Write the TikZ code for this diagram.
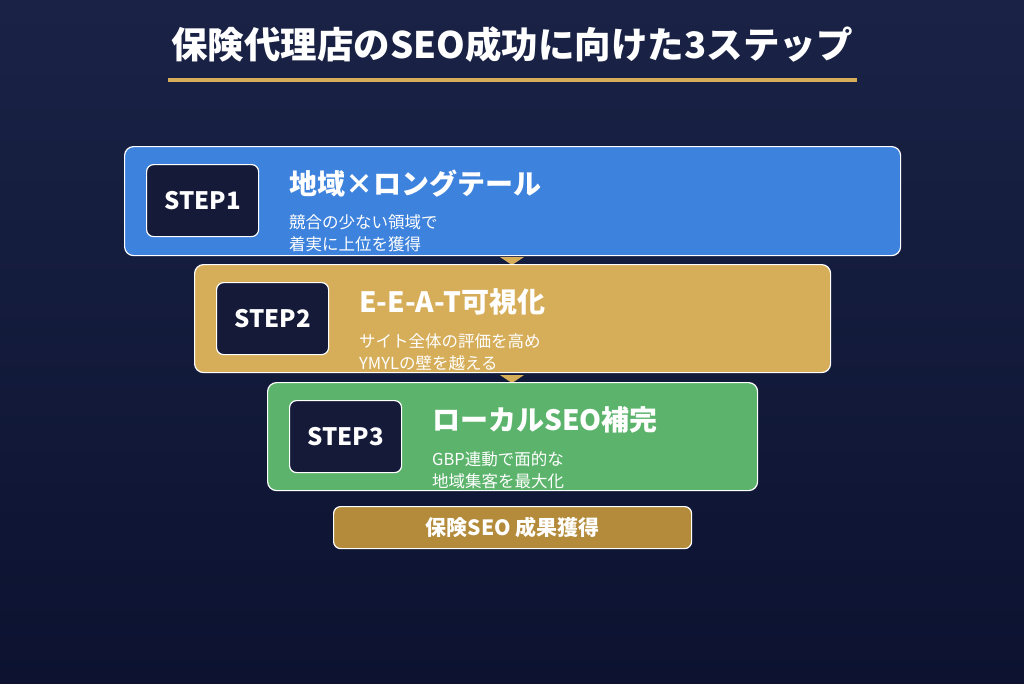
\documentclass[tikz,border=0pt]{standalone}
\usepackage{fontspec}
\setmainfont{Noto Sans CJK JP}
\begin{document}
\begin{tikzpicture}[x=1pt,y=-1pt,
  stage/.style={draw=white,line width=1.2pt,rounded corners=9pt,anchor=north west,inner sep=0},
  stepbox/.style={draw=white,line width=1.2pt,fill=stepdark,rounded corners=7pt,minimum width=112pt,minimum height=72pt,anchor=north west,font=\bfseries\fontsize{24}{26}\selectfont,text=white},
  ttl/.style={anchor=west,text=white,font=\bfseries\fontsize{28}{30}\selectfont,inner sep=0},
  sub/.style={anchor=north west,text=white,font=\fontsize{16.5}{22}\selectfont,align=left,inner sep=0}]
\definecolor{bgtop}{HTML}{1A2346}\definecolor{bgbot}{HTML}{0C1230}
\definecolor{stepdark}{HTML}{141A38}\definecolor{blueb}{HTML}{3D82DC}
\definecolor{gold}{HTML}{D6AE5A}\definecolor{greenb}{HTML}{5CB46C}
\definecolor{goldd}{HTML}{B38B3A}
\shade[top color=bgtop,bottom color=bgbot] (0,0) rectangle (1024,683);
\useasboundingbox (0,0) rectangle (1024,683);
\node[text=white,font=\bfseries\fontsize{36.5}{40}\selectfont] (title) at (512,45) {保険代理店のSEO成功に向けた3ステップ};
\draw[gold,line width=4pt] (168,80) -- (857,80);
% connectors
\fill[gold] (500,257) -- (524,257) -- (512,265) -- cycle;
\fill[gold] (500,375) -- (524,375) -- (512,383) -- cycle;
% stage 1
\node[stage,fill=blueb,minimum width=776pt,minimum height=109pt] (s1) at (124,146) {};
\node[stepbox] (p1) at (146,164) {STEP1};
\node[ttl] (t1) at (289,184) {地域×ロングテール};
\node[sub] (d1) at (289,214) {競合の少ない領域で\\着実に上位を獲得};
% stage 2
\node[stage,fill=gold,minimum width=636pt,minimum height=108pt] (s2) at (194,264) {};
\node[stepbox] (p2) at (216,282) {STEP2};
\node[ttl] (t2) at (359,302) {E-E-A-T可視化};
\node[sub] (d2) at (359,333) {サイト全体の評価を高め\\YMYLの壁を越える};
% stage 3
\node[stage,fill=greenb,minimum width=490pt,minimum height=108pt] (s3) at (267,382) {};
\node[stepbox] (p3) at (289,400) {STEP3};
\node[ttl] (t3) at (432,420) {ローカルSEO補完};
\node[sub] (d3) at (432,451) {GBP連動で面的な\\地域集客を最大化};
% result
\node[stage,fill=goldd,minimum width=358pt,minimum height=42pt,rounded corners=7pt] (r) at (333,506) {};
\node[text=white,font=\bfseries\fontsize{21}{23}\selectfont] (rt) at (r.center) {保険SEO 成果獲得};
\end{tikzpicture}
\end{document}
